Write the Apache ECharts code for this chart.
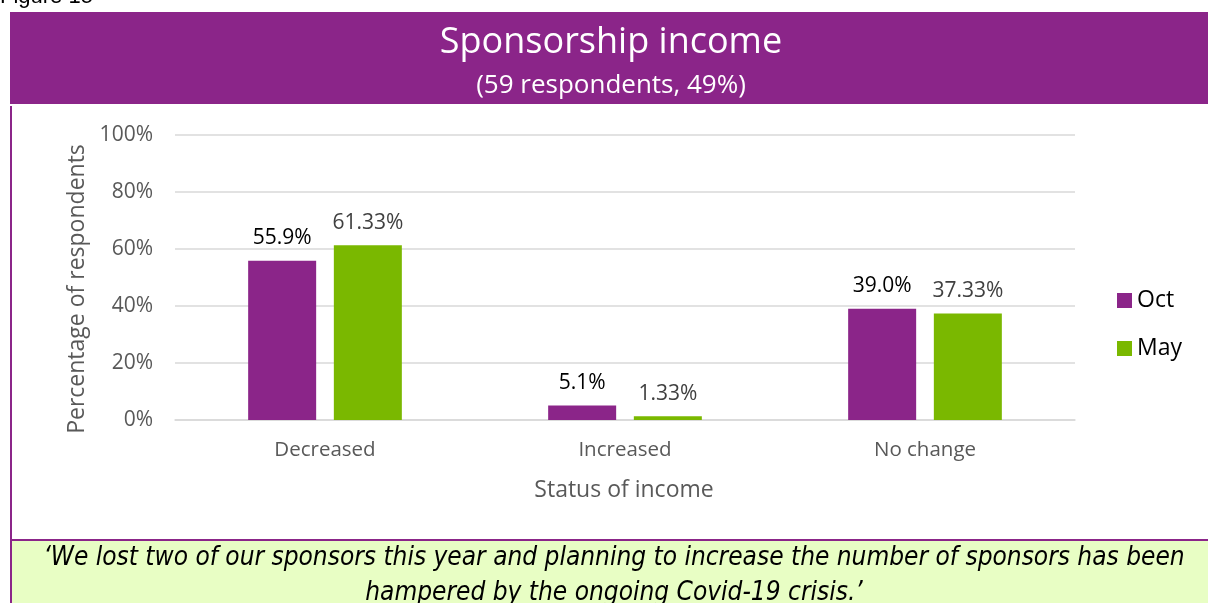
<!DOCTYPE html>
<html>
<head>
<meta charset="utf-8">
<script src="https://cdn.jsdelivr.net/npm/echarts@6/dist/echarts.min.js"></script>
<style>
  html, body { margin: 0; padding: 0; background: #ffffff; }
  #chart { width: 1208px; height: 603px; }
</style>
</head>
<body>
<div id="chart"></div>
<script>
// Sponsorship income: change reported by respondents, October vs May survey
const categories = ['Decreased', 'Increased', 'No change'];
const octValues = [55.9, 5.1, 39.0];
const mayValues = [61.33, 1.33, 37.33];
const seriesNames = ['Oct', 'May'];
const yTicks = [0, 20, 40, 60, 80, 100];

const PURPLE = '#8b2589';
const GREEN = '#7ab800';
const FONT = '"Open Sans", "Noto Sans", sans-serif';

const chart = echarts.init(document.getElementById('chart'));

chart.setOption({
  animation: false,
  textStyle: { fontFamily: FONT },
  graphic: [
    // caption above the panel
    { type: 'text', left: 0, top: -14, z: 10,
      style: { text: 'Figure 15', font: '22px "Liberation Sans", sans-serif', fill: '#000' } },
    // heading band
    { type: 'rect', shape: { x: 10, y: 12, width: 1198, height: 92 }, style: { fill: PURPLE }, z: 1 },
    { type: 'text', x: 611, y: 43, z: 10,
      style: { text: 'Sponsorship income', font: '36px ' + FONT, fill: '#fff', align: 'center', verticalAlign: 'middle' } },
    { type: 'text', x: 611, y: 86, z: 10,
      style: { text: '(59 respondents, 49%)', font: '26px ' + FONT, fill: '#fff', align: 'center', verticalAlign: 'middle' } },
    // left frame line
    { type: 'rect', shape: { x: 10, y: 106, width: 2, height: 497 }, style: { fill: PURPLE }, z: 1 },
    // quote box
    { type: 'rect', shape: { x: 12, y: 541, width: 1196, height: 62 }, style: { fill: '#e8fec4' }, z: 1 },
    { type: 'rect', shape: { x: 10, y: 539, width: 1198, height: 2 }, style: { fill: PURPLE }, z: 2 },
    { type: 'text', x: 614, y: 558, z: 10,
      style: { text: '\u2018We lost two of our sponsors this year and planning to increase the number of sponsors has been',
               font: 'italic 26px "DejaVu Sans Condensed", "DejaVu Sans", sans-serif', fill: '#000', align: 'center', verticalAlign: 'middle' } },
    { type: 'text', x: 614, y: 593, z: 10,
      style: { text: 'hampered by the ongoing Covid-19 crisis.\u2019',
               font: 'italic 26px "DejaVu Sans Condensed", "DejaVu Sans", sans-serif', fill: '#000', align: 'center', verticalAlign: 'middle' } },
    // axis titles
    { type: 'text', x: 77, y: 289, rotation: Math.PI / 2, z: 10,
      style: { text: 'Percentage of respondents', font: '23px ' + FONT, fill: '#595959', align: 'center', verticalAlign: 'middle' } },
    { type: 'text', x: 624, y: 490, z: 10,
      style: { text: 'Status of income', font: '23px ' + FONT, fill: '#595959', align: 'center', verticalAlign: 'middle' } }
  ],
  legend: {
    orient: 'vertical',
    left: 1112,
    top: 284,
    itemWidth: 15,
    itemHeight: 15,
    itemGap: 25,
    icon: 'rect',
    data: seriesNames,
    textStyle: { fontSize: 23, color: '#000', fontFamily: FONT }
  },
  grid: { left: 175, right: 133, top: 135, bottom: 183, containLabel: false },
  xAxis: {
    type: 'category',
    data: categories,
    axisLine: { show: true, lineStyle: { color: '#d9d9d9', width: 1.5 } },
    axisTick: { show: false },
    axisLabel: { fontSize: 20.5, color: '#595959', margin: 20, fontFamily: FONT }
  },
  yAxis: {
    type: 'value',
    min: yTicks[0],
    max: yTicks[yTicks.length - 1],
    interval: 20,
    axisLine: { show: false },
    axisTick: { show: false },
    axisLabel: { fontSize: 21, color: '#595959', margin: 22, fontFamily: FONT, formatter: '{value}%' },
    splitLine: { lineStyle: { color: '#d9d9d9', width: 1.5 } }
  },
  series: [
    {
      name: seriesNames[0],
      type: 'bar',
      data: octValues,
      barWidth: 68,
      barGap: '26%',
      itemStyle: { color: PURPLE },
      label: { show: true, position: 'top', distance: 12, fontSize: 21, color: '#000', fontFamily: FONT,
               formatter: p => p.value.toFixed(1) + '%' }
    },
    {
      name: seriesNames[1],
      type: 'bar',
      data: mayValues,
      barWidth: 68,
      itemStyle: { color: GREEN },
      label: { show: true, position: 'top', distance: 12, fontSize: 21, color: '#404040', fontFamily: FONT,
               formatter: p => p.value.toFixed(2) + '%' }
    }
  ]
});
</script>
</body>
</html>
